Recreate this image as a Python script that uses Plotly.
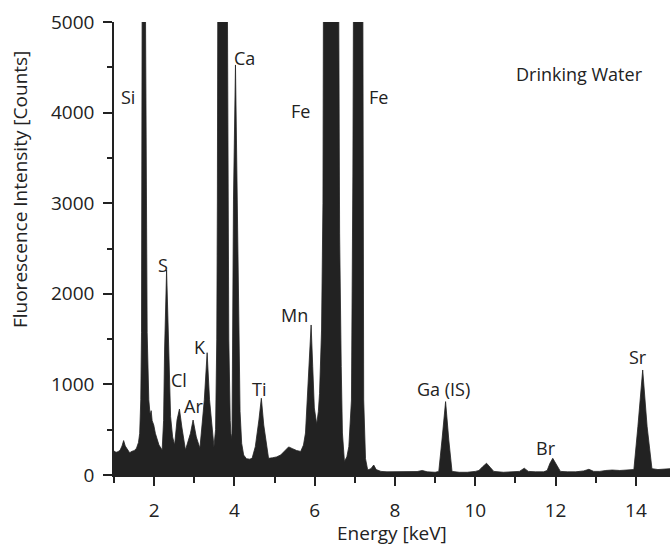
import plotly.graph_objects as go

# Traced spectrum (energy in keV, counts); peaks beyond 5000 are clipped in the reference
energy = [
    1.00, 1.05, 1.10, 1.15, 1.20, 1.24, 1.28, 1.33, 1.39, 1.45, 1.50, 1.56, 1.61, 1.64,
    1.667, 1.685, 1.69, 1.70, 1.74, 1.785, 1.81, 1.826, 1.867, 1.90, 1.926, 1.95, 1.99,
    2.03, 2.12, 2.20, 2.235, 2.26, 2.31, 2.36, 2.41, 2.46, 2.51, 2.57, 2.63, 2.69, 2.78,
    2.905, 2.97, 3.05, 3.14, 3.25, 3.32, 3.38, 3.49, 3.53, 3.56, 3.575, 3.595, 3.70,
    3.827, 3.835, 3.86, 3.895, 3.92, 3.94, 3.96, 3.976, 4.026, 4.076, 4.11, 4.14, 4.18,
    4.23, 4.30, 4.38, 4.44, 4.52, 4.61, 4.67, 4.73, 4.80, 4.85, 4.95, 5.05, 5.15, 5.25,
    5.35, 5.45, 5.55, 5.65, 5.72, 5.77, 5.83, 5.88, 5.91, 5.95, 5.99, 6.05, 6.09, 6.12,
    6.17, 6.205, 6.225, 6.40, 6.60, 6.62, 6.66, 6.69, 6.74, 6.80, 6.85, 6.915, 6.95,
    6.96, 7.08, 7.20, 7.22, 7.265, 7.32, 7.40, 7.47, 7.53, 7.65, 7.80, 8.00, 8.20, 8.40,
    8.55, 8.68, 8.80, 9.00, 9.09, 9.17, 9.26, 9.34, 9.42, 9.60, 9.80, 10.00, 10.09, 10.18,
    10.28, 10.38, 10.46, 10.70, 10.90, 11.10, 11.22, 11.32, 11.50, 11.70, 11.79, 11.86,
    11.93, 12.00, 12.12, 12.30, 12.50, 12.70, 12.83, 12.95, 13.10, 13.25, 13.41, 13.60,
    13.80, 13.95, 14.05, 14.17, 14.28, 14.40, 14.55, 14.70, 14.86,
]
counts = [
    265, 250, 258, 272, 320, 380, 320, 280, 246, 262, 268, 295, 360, 460,
    830, 1570, 3036, 5000, 9000, 5000, 3036, 1570, 830, 660, 710, 600, 552,
    460, 331, 276, 600, 1380, 2263, 1380, 644, 420, 331, 607, 728, 530, 276,
    460, 607, 420, 295, 830, 1350, 830, 313, 500, 1500, 3036, 5000, 30000,
    5000, 3036, 1500, 600, 400, 460, 1567, 3036, 4526, 3036, 1567, 700, 350,
    220, 180, 175, 184, 313, 607, 847, 552, 313, 184, 190, 200, 220, 260,
    310, 290, 270, 260, 330, 464, 1015, 1430, 1656, 1200, 740, 560, 700, 900,
    1600, 3000, 5000, 40000, 5000, 2670, 1196, 464, 150, 200, 313, 828, 3300,
    5000, 20000, 5000, 828, 180, 55, 70, 110, 60, 40, 35, 38, 35, 40,
    38, 50, 35, 30, 40, 386, 810, 386, 40, 30, 30, 40, 50, 90,
    130, 80, 40, 30, 35, 40, 75, 40, 35, 35, 50, 130,
    184, 130, 40, 35, 35, 45, 63, 40, 40, 50, 55, 50,
    55, 60, 533, 1159, 533, 70, 60, 65, 70,
]

# Peak labels and their positions (data coordinates)
label_text = ["Si", "S", "Cl", "Ar", "K", "Ca", "Ti", "Mn", "Fe", "Fe", "Ga (IS)", "Br", "Sr"]
label_x = [1.36, 2.21, 2.61, 2.97, 3.13, 4.25, 4.61, 5.50, 5.645, 7.60, 9.22, 11.77, 14.05]
label_y = [4173, 2318, 1049, 762, 1413, 4604, 949, 1766, 4019, 4173, 949, 298, 1303]

sample_title = "Drinking Water"
x_title = "Energy [keV]"
y_title = "Fluorescence Intensity [Counts]"

INK = "#222222"
FONT = "Open Sans"

fig = go.Figure()
fig.add_trace(go.Scatter(
    x=energy, y=counts, mode="lines", fill="tozeroy",
    line=dict(color=INK, width=0.8), fillcolor=INK, hoverinfo="skip",
))

annotations = []
for t, lx, ly in zip(label_text, label_x, label_y):
    annotations.append(dict(x=lx, y=ly, xref="x", yref="y", text=t, showarrow=False,
                            font=dict(family=FONT, size=18, color=INK),
                            xanchor="center", yanchor="middle"))
annotations.append(dict(x=12.59, y=4427, xref="x", yref="y", text=sample_title,
                        showarrow=False, font=dict(family=FONT, size=18, color=INK),
                        xanchor="center", yanchor="middle"))
# axis titles
annotations.append(dict(x=0, y=0.629, xref="paper", yref="paper", text=y_title,
                        showarrow=False, textangle=-90, xshift=-94,
                        font=dict(family=FONT, size=19, color=INK),
                        xanchor="center", yanchor="middle"))
annotations.append(dict(x=0.5, y=0, xref="paper", yref="paper", text=x_title,
                        showarrow=False, yshift=-58,
                        font=dict(family=FONT, size=19, color=INK),
                        xanchor="center", yanchor="middle"))

fig.update_layout(
    width=670, height=546,
    margin=dict(l=114, r=0, t=22, b=71, pad=0),
    paper_bgcolor="white", plot_bgcolor="white",
    showlegend=False,
    font=dict(family=FONT, size=19, color=INK),
    annotations=annotations,
    xaxis=dict(
        range=[1, 14.85], tick0=0, dtick=2, showgrid=False, zeroline=False,
        showline=True, linecolor=INK, linewidth=1.5,
        ticks="outside", ticklen=9, tickwidth=1.5, tickcolor=INK,
        ticklabelstandoff=8,
        minor=dict(dtick=1, tick0=0, ticks="outside", ticklen=6, tickwidth=1.5, tickcolor=INK),
        tickfont=dict(family=FONT, size=19, color=INK),
        fixedrange=True,
    ),
    yaxis=dict(
        range=[0, 5000], tick0=0, dtick=1000, showgrid=False, zeroline=False,
        showline=True, linecolor=INK, linewidth=1.5,
        ticks="outside", ticklen=9, tickwidth=1.5, tickcolor=INK,
        ticklabelstandoff=5,
        minor=dict(dtick=500, ticks="outside", ticklen=5, tickwidth=1.5, tickcolor=INK),
        tickfont=dict(family=FONT, size=19, color=INK),
        fixedrange=True,
    ),
)

fig.write_html("out.html")
